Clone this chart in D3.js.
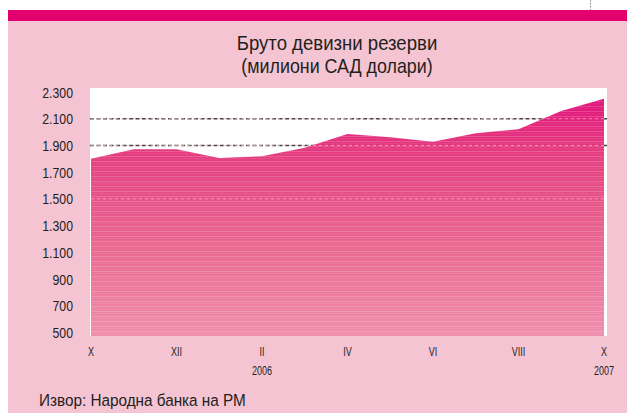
<!DOCTYPE html>
<html>
<head>
<meta charset="utf-8">
<script src="https://cdn.jsdelivr.net/npm/d3@7"></script>
<style>
  body { margin: 0; background: #fff; }
  svg { display: block; }
  text { font-family: "Liberation Sans", Arial, sans-serif; fill: #231f20; }
</style>
</head>
<body>
<svg id="chart" width="627" height="413"></svg>
<script>
// months shown on the x axis (oct .. oct)
const months = ['X', 'XI', 'XII', 'I', 'II', 'III', 'IV', 'V', 'VI', 'VII', 'VIII', 'IX', 'X']
const reserves = [1800, 1872, 1872, 1806, 1820, 1882, 1985, 1962, 1927, 1992, 2022, 2158, 2250]
const tickMonths = [0, 2, 4, 6, 8, 10, 12]
const yearLabels = [{i: 4, text: '2006'}, {i: 12, text: '2007'}]
const yTicks = [500, 700, 900, 1100, 1300, 1500, 1700, 1900, 2100, 2300]
const darkGrid = [1900, 2100]
const lightGrid = [1500, 1900, 2100]

const svg = d3.select('#chart')

// the font here is a condensed one, so squeeze text horizontally
const squeeze = (sel, px, py, sx) =>
  sel.attr('transform', `translate(${px},${py}) scale(${sx},1)`)

// page frame
svg.append('rect').attr('x', 8).attr('y', 21).attr('width', 619).attr('height', 392).attr('fill', '#f5c4d2')
svg.append('rect').attr('x', 8).attr('y', 10).attr('width', 619).attr('height', 11).attr('fill', '#e3006f')
svg.append('line').attr('x1', 590.5).attr('x2', 590.5).attr('y1', 0).attr('y2', 10)
  .attr('stroke', '#888').attr('stroke-dasharray', '1.5,1.5')

svg.append('text').attr('text-anchor', 'middle').style('font-size', '21px')
  .call(squeeze, 337, 50, 0.885).text('Бруто девизни резерви')
svg.append('text').attr('text-anchor', 'middle').style('font-size', '21px')
  .call(squeeze, 337, 73, 0.85).text('(милиони САД долари)')

const left = 91, right = 604
const x = d3.scaleLinear().domain([0, 12]).range([left, right])
const y = d3.scaleLinear().domain([500, 2300]).range([332.5, 92])

// plot background
svg.append('rect').attr('x', 90).attr('y', 88).attr('width', 517).attr('height', 248).attr('fill', '#fff')

svg.selectAll('.grid')
  .data(darkGrid)
  .enter()
  .append('line')
  .attr('x1', 90).attr('x2', 607)
  .attr('y1', d => y(d)).attr('y2', d => y(d))
  .attr('stroke', '#444').attr('stroke-width', 1.5).attr('stroke-dasharray', '4,2.5')

const defs = svg.append('defs')
const grad = defs.append('linearGradient').attr('id', 'fill')
  .attr('gradientUnits', 'userSpaceOnUse')
  .attr('x1', 0).attr('x2', 0).attr('y1', 95).attr('y2', 336)
grad.append('stop').attr('offset', '0%').attr('stop-color', '#e2107a')
grad.append('stop').attr('offset', '25%').attr('stop-color', '#e43e7f')
grad.append('stop').attr('offset', '60%').attr('stop-color', '#e9648f')
grad.append('stop').attr('offset', '100%').attr('stop-color', '#ef8dac')

const pat = defs.append('pattern').attr('id', 'stripes')
  .attr('patternUnits', 'userSpaceOnUse').attr('width', 10).attr('height', 5)
pat.append('rect').attr('width', 10).attr('height', 1).attr('y', 1).attr('fill', '#fff').attr('opacity', 0.18)
pat.append('rect').attr('width', 10).attr('height', 0.6).attr('y', 3.5).attr('fill', '#fff').attr('opacity', 0.12)

const area = d3.area()
  .x((d, i) => x(i))
  .y0(336)
  .y1(d => y(d))

svg.append('path').datum(reserves).attr('d', area).attr('fill', 'url(#fill)')
svg.append('path').datum(reserves).attr('d', area).attr('fill', 'url(#stripes)')

svg.selectAll('.lgrid')
  .data(lightGrid)
  .enter()
  .append('line')
  .attr('x1', 91).attr('x2', 604)
  .attr('y1', d => y(d)).attr('y2', d => y(d))
  .attr('stroke', '#f3a3bf').attr('stroke-width', 1).attr('stroke-dasharray', '3,3')
  .attr('opacity', 0.8)

// y axis labels
svg.selectAll('.ylab')
  .data(yTicks)
  .enter()
  .append('text')
  .attr('text-anchor', 'end')
  .style('font-size', '15px')
  .each(function(d) { squeeze(d3.select(this), 73, y(d) + 5.5, 0.82) })
  .text(d => d3.format(',')(d).replace(',', '.'))

// x axis labels
svg.selectAll('.xlab')
  .data(tickMonths)
  .enter()
  .append('text')
  .attr('text-anchor', 'middle')
  .style('font-size', '12.5px')
  .each(function(d) { squeeze(d3.select(this), x(d), 356, 0.72) })
  .text(d => months[d])

svg.selectAll('.year')
  .data(yearLabels)
  .enter()
  .append('text')
  .attr('text-anchor', 'middle')
  .style('font-size', '12.5px')
  .each(function(d) { squeeze(d3.select(this), x(d.i), 375, 0.72) })
  .text(d => d.text)

svg.append('text').style('font-size', '17px')
  .call(squeeze, 39, 406, 0.9).text('Извор: Народна банка на РМ')
</script>
</body>
</html>
